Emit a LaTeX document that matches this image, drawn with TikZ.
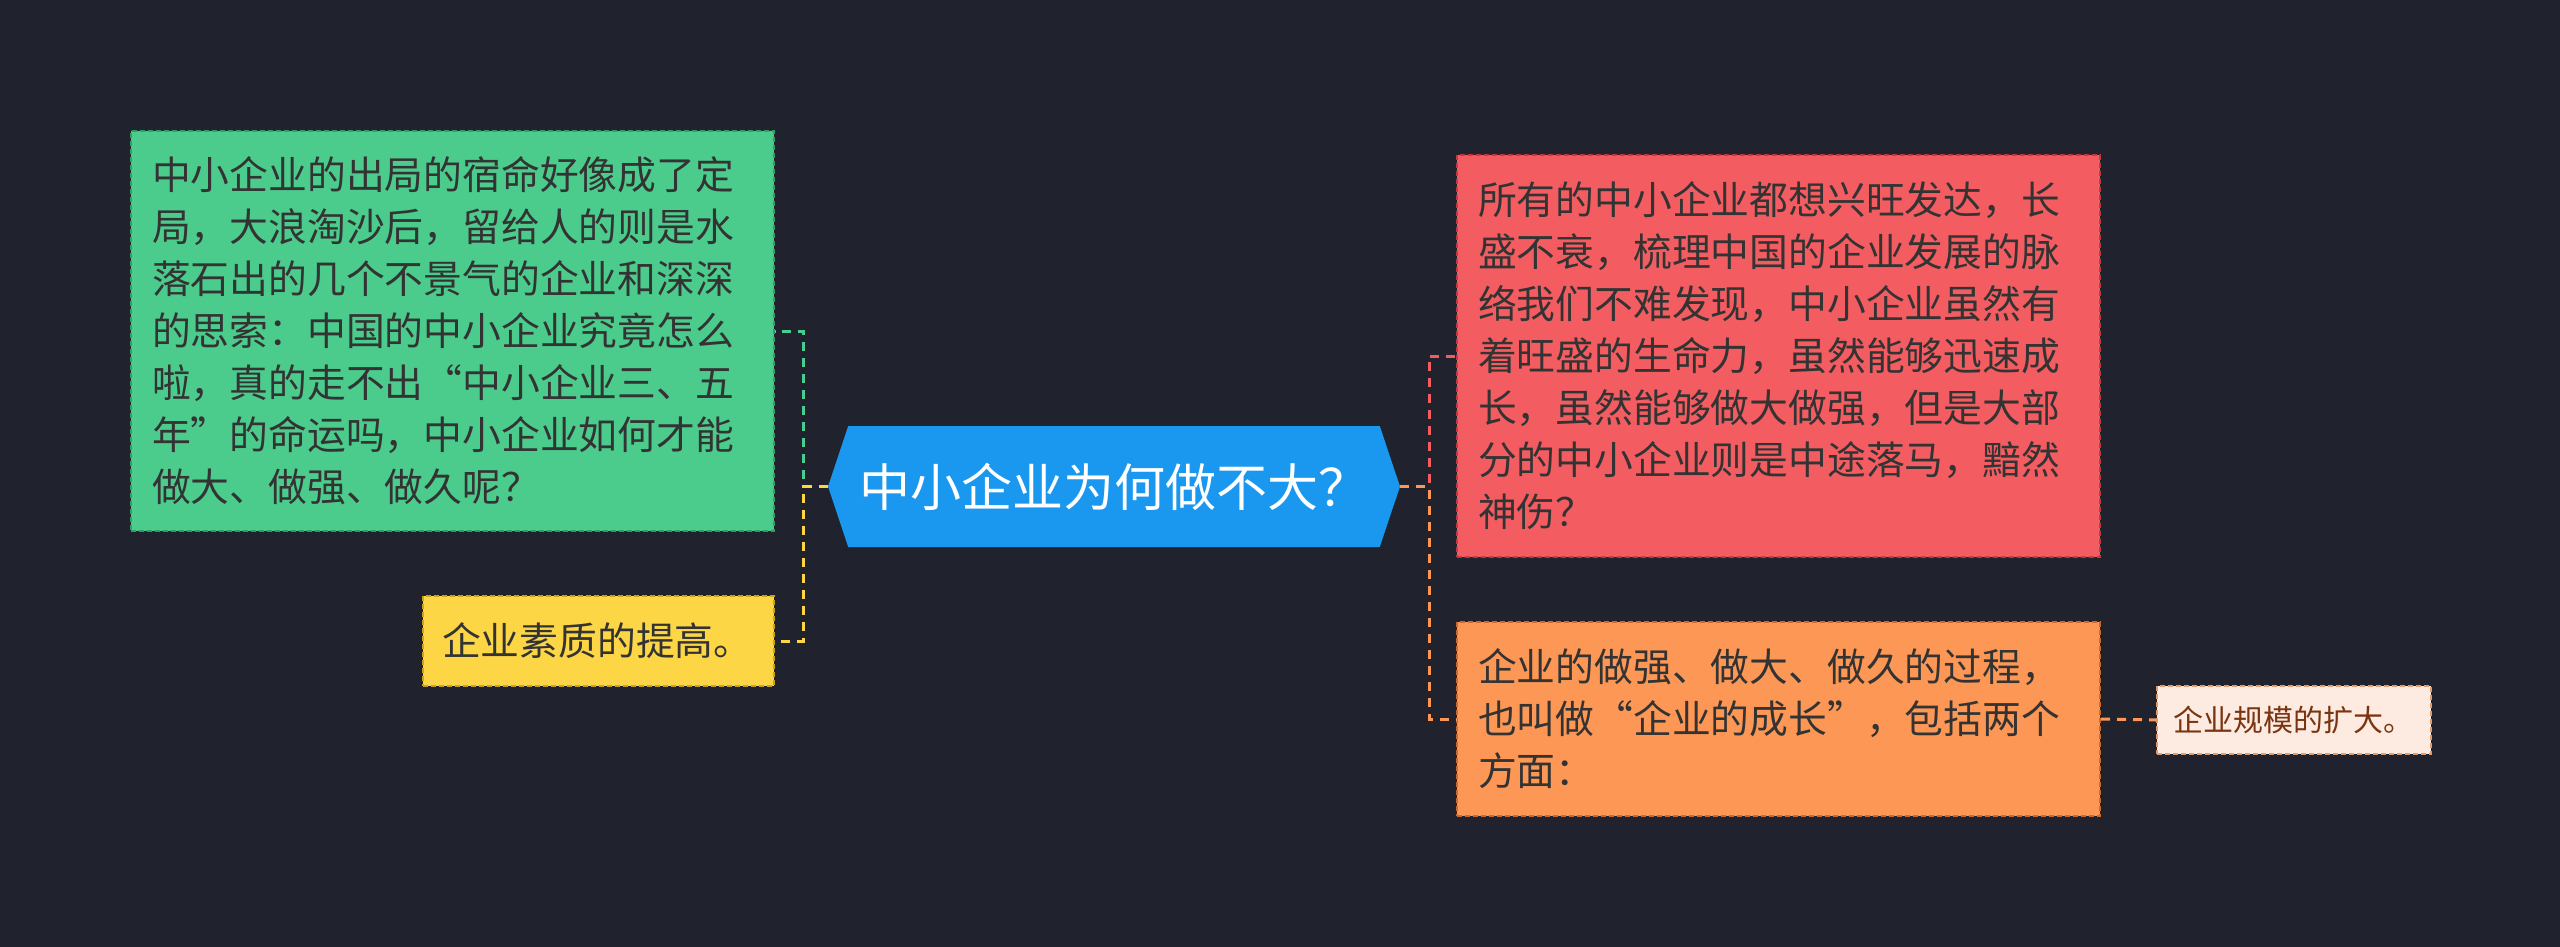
\documentclass[tikz,border=0pt]{standalone}
\usepackage{fontspec}
\setmainfont{Noto Sans CJK SC}
\usetikzlibrary{shapes.symbols}
\definecolor{bgcol}{HTML}{20232E}
\definecolor{txtcol}{HTML}{333333}
\definecolor{lgreen}{HTML}{4BCB8C}
\definecolor{dgreen}{HTML}{2F9E68}
\definecolor{lyellow}{HTML}{FDD646}
\definecolor{dyellow}{HTML}{C9A41A}
\definecolor{lblue}{HTML}{1A98F0}
\definecolor{lred}{HTML}{F35D61}
\definecolor{dred}{HTML}{C23A3E}
\definecolor{lorange}{HTML}{FD9755}
\definecolor{dorange}{HTML}{CC6A2C}
\definecolor{lpeach}{HTML}{FDEBE1}
\definecolor{dpeach}{HTML}{E59A6A}
\definecolor{brown}{HTML}{7A3410}
\begin{document}
\begin{tikzpicture}
  [x=0.5pt,y=-0.5pt,
   box/.style={rectangle,dash pattern=on 2.5pt off 1.5pt,line width=1pt,align=left,
     text=txtcol,inner xsep=10.5pt,font=\fontsize{19.4}{26}\selectfont},
   link/.style={dash pattern=on 4.5pt off 3.5pt,line width=1.5pt}]
  \fill[bgcol] (0,0) rectangle (2560,947);
  \useasboundingbox (0,0) rectangle (2560,947);

  \node[signal,signal to=west and east,signal pointer angle=143,fill=lblue,text=white,
    minimum width=286pt,minimum height=60.5pt,font=\fontsize{25.5}{30}\selectfont]
    (root) at (1114,486.5) {中小企业为何做不大？};

  \node[box,fill=lgreen,draw=dgreen,text width=300.5pt,minimum height=200pt] (gbox) at (452.5,331)
    {中小企业的出局的宿命好像成了定\\局，大浪淘沙后，留给人的则是水\\落石出的几个不景气的企业和深深\\的思索：中国的中小企业究竟怎么\\啦，真的走不出“中小企业三、五\\年”的命运吗，中小企业如何才能\\做大、做强、做久呢？};
  \node[box,fill=lyellow,draw=dyellow,inner xsep=9.5pt,text width=156.5pt,minimum height=45pt] (ybox) at (598.5,641)
    {企业素质的提高。};
  \node[box,fill=lred,draw=dred,text width=300.5pt,minimum height=201pt] (rbox) at (1778.5,356)
    {所有的中小企业都想兴旺发达，长\\盛不衰，梳理中国的企业发展的脉\\络我们不难发现，中小企业虽然有\\着旺盛的生命力，虽然能够迅速成\\长，虽然能够做大做强，但是大部\\分的中小企业则是中途落马，黯然\\神伤？};
  \node[box,fill=lorange,draw=dorange,text width=300.5pt,minimum height=97pt] (obox) at (1778.5,719)
    {企业的做强、做大、做久的过程，\\也叫做“企业的成长”，包括两个\\方面：};
  \node[box,fill=lpeach,draw=dpeach,text=brown,inner xsep=8pt,text width=121pt,minimum height=34pt,
    font=\fontsize{15}{18}\selectfont] (pbox) at (2294,720) {企业规模的扩大。};

  \coordinate (lj) at (803,486.5);
  \coordinate (rj) at (1429,486.5);
  \foreach \to/\col in {gbox/lgreen, ybox/lyellow}
    \draw[link,draw=\col] (root.west) -- (lj) |- (\to.east);
  \foreach \to/\col in {rbox/lred, obox/lorange}
    \draw[link,draw=\col] (root.east) -- (rj) |- (\to.west);
  \draw[link,draw=lorange] (obox.east) -- (pbox.west);
\end{tikzpicture}
\end{document}
